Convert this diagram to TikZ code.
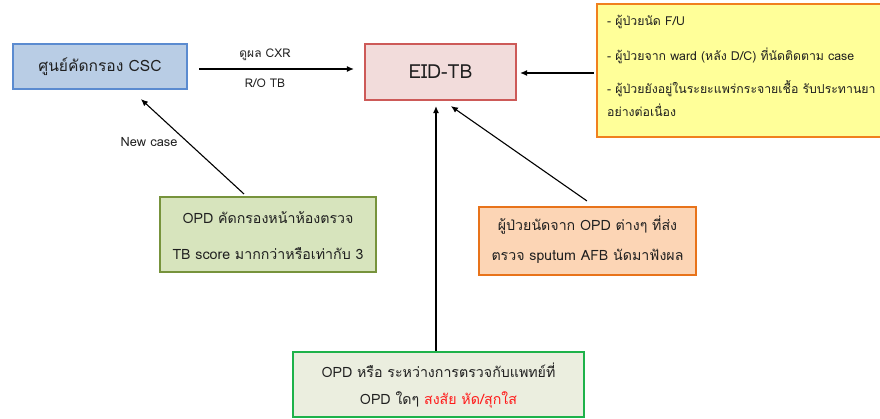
\documentclass[tikz,border=0pt]{standalone}
\usepackage{fontspec}
\setmainfont[Script=Thai]{Loma}
\usetikzlibrary{arrows.meta,calc}
\definecolor{txt}{HTML}{1F1F1F}
\definecolor{cscfill}{HTML}{B9CDE5}
\definecolor{cscline}{HTML}{5B8BD0}
\definecolor{eidfill}{HTML}{F2DCDB}
\definecolor{eidline}{HTML}{CD5A58}
\definecolor{yelfill}{HTML}{FFFF99}
\definecolor{yelline}{HTML}{F0801E}
\definecolor{gfill}{HTML}{D7E4BD}
\definecolor{gline}{HTML}{77933C}
\definecolor{ofill}{HTML}{FCD5B5}
\definecolor{oline}{HTML}{E8731A}
\definecolor{bfill}{HTML}{EBEEDF}
\definecolor{bline}{HTML}{1EB24A}
\definecolor{redtxt}{HTML}{FF1A1A}
\tikzset{
  box/.style={draw, line width=2.2pt, rectangle, inner sep=0pt, text=txt, align=center},
  arr/.style={draw=black, line width=1.1pt, -{Latex[length=7pt,width=6pt]}},
  lbl/.style={text=txt, font=\fontsize{12}{14}\selectfont, inner sep=0pt},
  small/.style={font=\fontsize{14.2}{17}\selectfont},
  ysmall/.style={font=\fontsize{12.3}{15}\selectfont},
}
\begin{document}
\begin{tikzpicture}[x=1pt,y=-1pt]
\clip (0,0) rectangle (880,419);
\useasboundingbox (0,0) rectangle (880,419);
% boxes
\node[box, fill=cscfill, draw=cscline, minimum width=174pt, minimum height=45pt, font=\fontsize{15.6}{18}\selectfont] (csc) at (100,66.5) {ศูนย์คัดกรอง CSC};
\node[box, fill=eidfill, draw=eidline, minimum width=151pt, minimum height=56pt, font=\fontsize{19.4}{22}\selectfont] (eid) at (440.5,72) {EID-TB};
\node[box, fill=yelfill, draw=yelline, minimum width=290pt, minimum height=133pt] (yel) at (742,70.5) {};
\node[box, fill=gfill, draw=gline, minimum width=216pt, minimum height=75pt] (g1) at (268,234.5) {};
\node[box, fill=ofill, draw=oline, minimum width=217pt, minimum height=68pt] (or) at (587.5,241) {};
\node[box, fill=bfill, draw=bline, minimum width=291pt, minimum height=65pt] (bot) at (438.5,384.5) {};
% yellow text
\node[lbl, ysmall, anchor=west] (y1) at (607,22) {- ผู้ป่วยนัด F/U};
\node[lbl, ysmall, anchor=west] (y2) at (607,56) {- ผู้ป่วยจาก ward (หลัง D/C) ที่นัดติดตาม case};
\node[lbl, ysmall, anchor=west] (y3) at (607,89) {- ผู้ป่วยยังอยู่ในระยะแพร่กระจายเชื้อ รับประทานยา};
\node[lbl, ysmall, anchor=west] (y4) at (607,110) {อย่างต่อเนื่อง};
% green text
\node[lbl, small] (g1a) at (268,218) {OPD คัดกรองหน้าห้องตรวจ};
\node[lbl, small] (g1b) at (268,254) {TB score มากกว่าหรือเท่ากับ 3};
% orange text
\node[lbl, small] (o1) at (587.5,225) {ผู้ป่วยนัดจาก OPD ต่างๆ ที่ส่ง};
\node[lbl, small] (o2) at (587.5,256) {ตรวจ sputum AFB นัดมาฟังผล};
% bottom text
\node[lbl, small] (b1) at (438.5,370) {OPD หรือ ระหว่างการตรวจกับแพทย์ที่};
\node[lbl, small] (b2) at (438.5,400) {OPD ใดๆ \textcolor{redtxt}{สงสัย หัด/สุกใส}};
% arrows
\draw[arr, shorten <=11pt, shorten >=10pt] ([yshift=-2.5pt]csc.east) -- ([yshift=-2.5pt]csc.east -| eid.west);
\node[lbl] (cxr) at (265,55) {ดูผล CXR};
\node[lbl] (ro) at (265,83) {R/O TB};
\draw[arr, shorten <=2pt, shorten >=3pt] ([yshift=-2.5pt]yel.west) -- ([yshift=-2.5pt]yel.west -| eid.east);
\draw[arr, shorten >=5pt] (bot.north -| 436,0) -- (eid.south -| 436,0);
\coordinate (otail) at ($(or.north west)+(109,-5)$);
\coordinate (otip) at ($(eid.south west)+(87,5)$);
\draw[arr] (otail) -- (otip);
\coordinate (gtail) at ($(g1.north west)+(85,-2)$);
\coordinate (gtip) at ($(csc.south west)+(129,9)$);
\draw[arr] (gtail) -- (gtip);
\node[lbl, font=\fontsize{12.8}{15}\selectfont] (nc) at (149,142) {New case};
\end{tikzpicture}
\end{document}
